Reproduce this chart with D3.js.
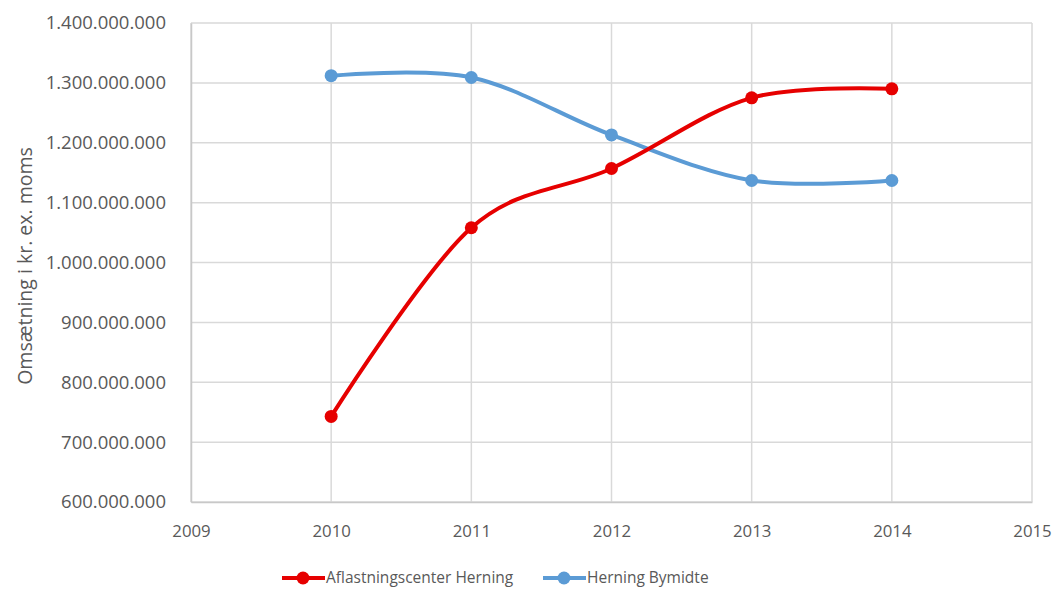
<!DOCTYPE html>
<meta charset="utf-8">
<script src="https://d3js.org/d3.v7.min.js"></script>
<style>
  body { margin: 0; background: #fff; }
  text { font-family: "Open Sans", "Noto Sans", sans-serif; fill: #595959; }
</style>
<div id="chart"></div>
<script>
    // data
    var years = [2010, 2011, 2012, 2013, 2014];
    var aflastning = [743000000, 1058000000, 1157000000, 1275000000, 1290000000];
    var bymidte = [1312000000, 1309000000, 1213000000, 1137000000, 1137000000];
    var seriesNames = ["Aflastningscenter Herning", "Herning Bymidte"];
    var seriesColors = ["#e60000", "#5b9bd5"];
    var yTicks = [600000000, 700000000, 800000000, 900000000, 1000000000, 1100000000, 1200000000, 1300000000, 1400000000];
    var xTicks = [2009, 2010, 2011, 2012, 2013, 2014, 2015];

    var W = 1054, H = 589;
    var margin = {top: 23, right: 22, bottom: 87, left: 191},
        width = W - margin.left - margin.right,
        height = H - margin.top - margin.bottom;

    var svg = d3.select("#chart").append("svg")
        .attr("width", W).attr("height", H);
    var g = svg.append("g")
        .attr("transform", "translate(" + margin.left + "," + margin.top + ")");

    var x = d3.scaleLinear().domain([2009, 2015]).range([0, width]);
    var y = d3.scaleLinear().domain([600000000, 1400000000]).range([height, 0]);

    var fmt = function(v) { return d3.format(",")(v).replace(/,/g, "."); };

    // gridlines
    g.selectAll(".hgrid").data(yTicks).enter().append("line")
        .attr("x1", 0).attr("x2", width)
        .attr("y1", function(d) { return y(d); }).attr("y2", function(d) { return y(d); })
        .attr("stroke", "#d9d9d9").attr("stroke-width", 1.5);
    g.selectAll(".vgrid").data(xTicks).enter().append("line")
        .attr("x1", function(d) { return x(d); }).attr("x2", function(d) { return x(d); })
        .attr("y1", 0).attr("y2", height)
        .attr("stroke", "#d9d9d9").attr("stroke-width", 1.5);

    // y axis
    var yAxis = g.append("g").call(d3.axisLeft(y).tickValues(yTicks).tickFormat(fmt).tickSize(0).tickPadding(25));
    yAxis.select(".domain").attr("stroke", "#c8c8c8").attr("stroke-width", 1.5);
    yAxis.selectAll("text").style("font-size", "18.5px").attr("fill", "#595959");

    // x axis
    var xAxis = g.append("g").attr("transform", "translate(0," + height + ")")
        .call(d3.axisBottom(x).tickValues(xTicks).tickFormat(d3.format("d")).tickSize(0).tickPadding(23));
    xAxis.select(".domain").attr("stroke", "#c8c8c8").attr("stroke-width", 1.5);
    xAxis.selectAll("text").style("font-size", "16.8px").attr("fill", "#595959");

    // y label
    svg.append("text")
        .attr("transform", "translate(25," + 266 + ") rotate(-90)")
        .attr("text-anchor", "middle")
        .attr("dy", "0.35em")
        .style("font-size", "19.5px")
        .text("Omsætning i kr. ex. moms");

    var dataReady = [aflastning, bymidte].map(function(vals, i) {
        return {
            name: seriesNames[i],
            color: seriesColors[i],
            values: years.map(function(yr, j) { return {year: yr, value: vals[j]}; })
        };
    });

    var line = d3.line()
        .curve(d3.curveCatmullRom.alpha(0))
        .x(function(d) { return x(d.year); })
        .y(function(d) { return y(d.value); });

    // draw blue first, red on top
    var order = [dataReady[1], dataReady[0]];
    order.forEach(function(s) {
        g.append("path")
            .attr("d", line(s.values))
            .attr("fill", "none")
            .attr("stroke", s.color)
            .attr("stroke-width", 4)
            .attr("stroke-linecap", "round");
        g.selectAll(null).data(s.values).enter().append("circle")
            .attr("cx", function(d) { return x(d.year); })
            .attr("cy", function(d) { return y(d.value); })
            .attr("r", 6.5)
            .attr("fill", s.color);
    });

    // legend
    var legendX = [282, 543];
    var legend = svg.selectAll(".legend").data(dataReady).enter().append("g")
        .attr("transform", function(d, i) { return "translate(" + legendX[i] + ",578)"; });
    legend.append("line")
        .attr("x1", 0).attr("x2", 43).attr("y1", 0).attr("y2", 0)
        .attr("stroke", function(d) { return d.color; }).attr("stroke-width", 4);
    legend.append("circle")
        .attr("cx", 21).attr("cy", 0).attr("r", 6.5)
        .attr("fill", function(d) { return d.color; });
    legend.append("text")
        .attr("x", 44).attr("y", 0).attr("dy", "0.35em")
        .style("font-size", "15.5px")
        .text(function(d) { return d.name; });
</script>
